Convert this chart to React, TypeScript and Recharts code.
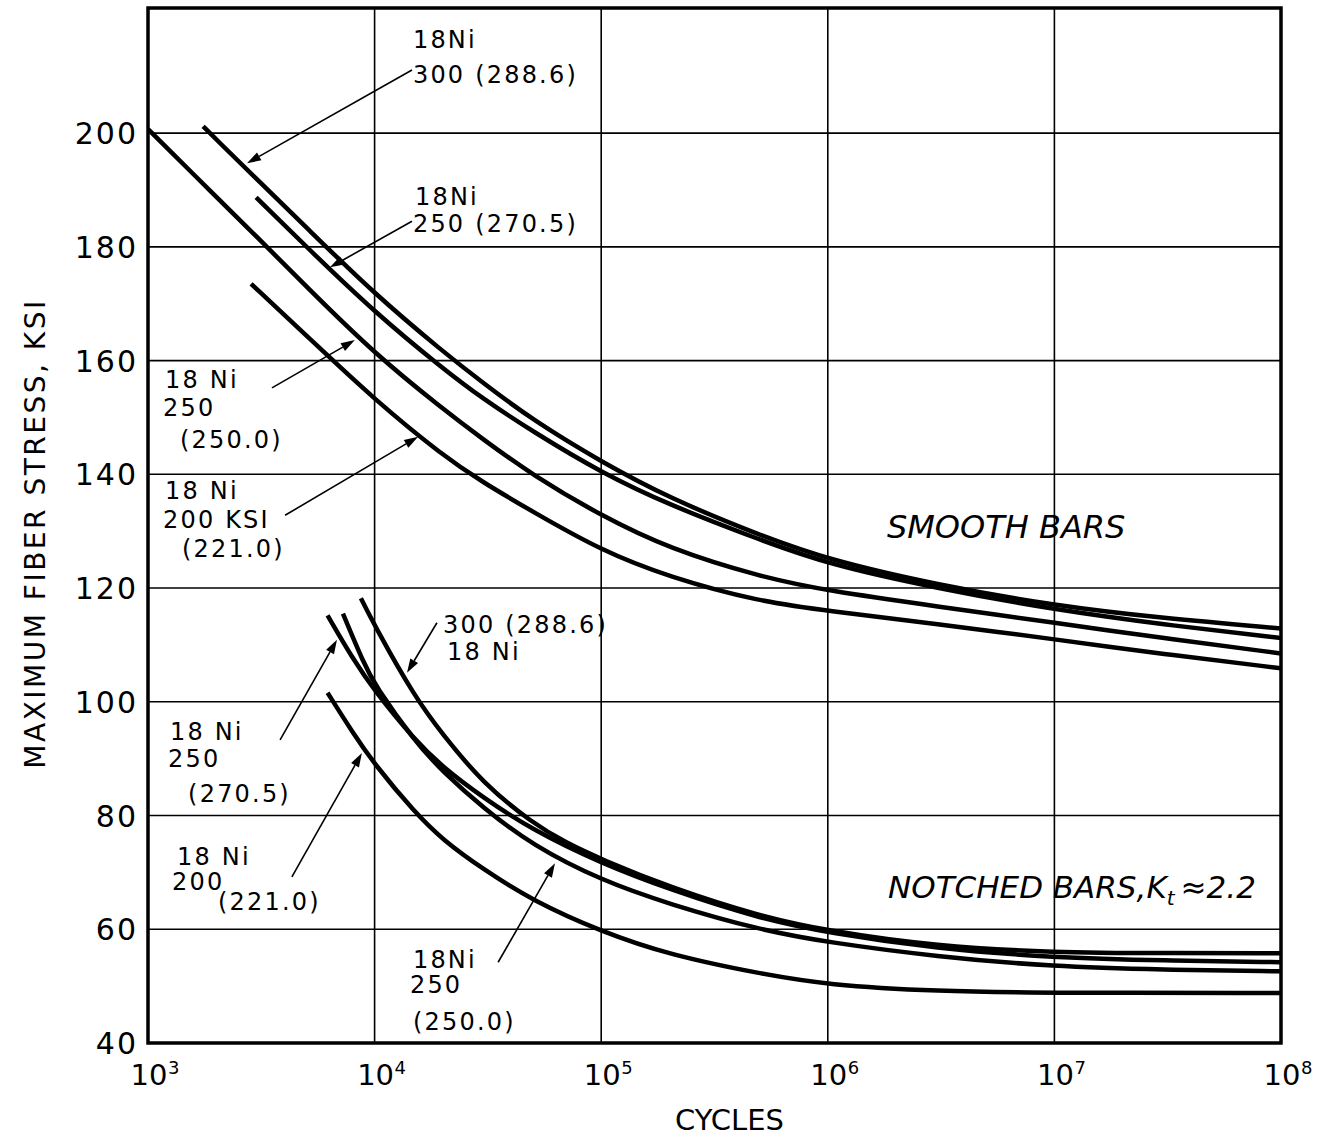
import React from "react";
import {
  LineChart,
  Line,
  XAxis,
  YAxis,
  CartesianGrid,
  ReferenceArea,
  ReferenceLine,
  ReferenceDot,
} from "recharts";

const FONT = '"DejaVu Sans", sans-serif';

// axis ticks
const cycleTicks = [1e3, 1e4, 1e5, 1e6, 1e7, 1e8];
const stressTicks = [40, 60, 80, 100, 120, 140, 160, 180, 200];

// smooth bars, [cycles, ksi]
const smooth300 = [
  [1.75e3, 201.2], [2e3, 198.9], [3e3, 192], [5e3, 183.4], [1e4, 171.7],
  [2e4, 161.6], [3e4, 156.1], [5e4, 149.5], [1e5, 142.2], [2e5, 135.8],
  [5e5, 129.3], [1e6, 125], [3e6, 120.6], [1e7, 116.9], [3e7, 114.7], [1e8, 112.9],
];
const smooth270 = [
  [3e3, 188.7], [5e3, 180], [1e4, 168.5], [2e4, 158.6], [3e4, 153.3],
  [5e4, 147.5], [1e5, 140.3], [2e5, 134.6], [5e5, 128.5], [1e6, 124.2],
  [3e6, 120], [1e7, 116.2], [3e7, 113.6], [1e8, 111.2],
];
const smooth250 = [
  [1e3, 200.7], [2e3, 188.8], [3e3, 181.9], [5e3, 173], [1e4, 161.2],
  [2e4, 151.5], [3e4, 146.2], [5e4, 139.8], [1e5, 132.7], [2e5, 126.9],
  [5e5, 122], [1e6, 119.5], [3e6, 116.8], [1e7, 113.9], [3e7, 111.2], [1e8, 108.5],
];
const smooth221 = [
  [2.85e3, 173.5], [5e3, 164.4], [1e4, 153.1], [2e4, 143.3], [3e4, 138.6],
  [5e4, 133.4], [1e5, 126.6], [2e5, 121.9], [5e5, 117.6], [1e6, 116],
  [3e6, 113.7], [1e7, 111], [3e7, 108.4], [1e8, 105.9],
];

// notched bars, Kt = 2.2
const notched300 = [
  [8.7e3, 118.2], [1e4, 113.4], [1.5e4, 100.9], [2e4, 94.2], [3e4, 85.7],
  [5e4, 78.6], [7e4, 75.2], [1e5, 72.3], [2e5, 67.4], [5e5, 62.3],
  [1e6, 59.7], [3e6, 57], [1e7, 55.9], [3e7, 55.8], [1e8, 55.8],
];
const notched270 = [
  [6.2e3, 115.2], [8e3, 107.6], [1e4, 101.9], [1.5e4, 93.3], [2e4, 88.5],
  [3e4, 83.2], [5e4, 77.4], [1e5, 71.6], [2e5, 67], [5e5, 61.9],
  [1e6, 59.4], [3e6, 56.6], [1e7, 55], [3e7, 54.5], [1e8, 54.2],
];
const notched250 = [
  [7.25e3, 115.5], [9e3, 106.6], [1e4, 103], [1.5e4, 93.1], [2e4, 87.7],
  [3e4, 81.4], [5e4, 74.7], [1e5, 68.6], [2e5, 64.4], [5e5, 59.9],
  [1e6, 57.7], [3e6, 55.2], [1e7, 53.4], [3e7, 52.9], [1e8, 52.6],
];
const notched221 = [
  [6.2e3, 101.6], [8e3, 94.6], [1e4, 89], [1.5e4, 80.6], [2e4, 75.7],
  [3e4, 70.6], [5e4, 65], [1e5, 59.6], [2e5, 55.5], [5e5, 52.2],
  [1e6, 50.2], [3e6, 49.1], [1e7, 48.8], [1e8, 48.8],
];

const series = [
  { id: "s300", pts: smooth300 },
  { id: "s270", pts: smooth270 },
  { id: "s250", pts: smooth250 },
  { id: "s221", pts: smooth221 },
  { id: "n300", pts: notched300 },
  { id: "n270", pts: notched270 },
  { id: "n250", pts: notched250 },
  { id: "n221", pts: notched221 },
];

// curve labels (cycles, ksi at text baseline)
const notes = [
  { text: "18Ni", n: 1.476e4, s: 215.0 },
  { text: "300 (288.6)", n: 1.476e4, s: 208.8 },
  { text: "18Ni", n: 1.507e4, s: 187.4 },
  { text: "250 (270.5)", n: 1.476e4, s: 182.6 },
  { text: "18 Ni", n: 1.189e3, s: 155.1 },
  { text: "250", n: 1.164e3, s: 150.2 },
  { text: "(250.0)", n: 1.384e3, s: 144.6 },
  { text: "18 Ni", n: 1.189e3, s: 135.6 },
  { text: "200 KSI", n: 1.164e3, s: 130.5 },
  { text: "(221.0)", n: 1.413e3, s: 125.5 },
  { text: "300 (288.6)", n: 2.004e4, s: 112.1 },
  { text: "18 Ni", n: 2.089e4, s: 107.4 },
  { text: "18 Ni", n: 1.25e3, s: 93.3 },
  { text: "250", n: 1.225e3, s: 88.5 },
  { text: "(270.5)", n: 1.503e3, s: 82.4 },
  { text: "18 Ni", n: 1.343e3, s: 71.3 },
  { text: "200", n: 1.276e3, s: 66.9 },
  { text: "(221.0)", n: 2.037e3, s: 63.4 },
  { text: "18Ni", n: 1.476e4, s: 53.2 },
  { text: "250", n: 1.432e4, s: 48.8 },
  { text: "(250.0)", n: 1.476e4, s: 42.3 },
];

// leader arrows: tail -> head
const leaders = [
  { from: [1.462e4, 211.1], to: [2.735e3, 194.7] },
  { from: [1.462e4, 184.5], to: [6.353e3, 176.4] },
  { from: [3.524e3, 155.2], to: [8.185e3, 163.6] },
  { from: [4.027e3, 132.8], to: [1.556e4, 146.6] },
  { from: [1.884e4, 113.9], to: [1.39e4, 105.1] },
  { from: [3.828e3, 93.3], to: [6.823e3, 110.9] },
  { from: [4.315e3, 69.2], to: [8.79e3, 91.0] },
  { from: [3.508e4, 54.2], to: [6.252e4, 71.6] },
];

const toPoints = (pairs: number[][]) => pairs.map(([n, s]) => ({ n, s }));

const CycleTick = (props: any) => {
  const { x, y, payload } = props;
  const exp = Math.round(Math.log10(payload.value));
  return (
    <g>
      <text x={x + 1} y={y + 42} textAnchor="middle" fontSize={29} fontFamily={FONT} fill="#000">
        10
      </text>
      <text x={x + 20} y={y + 31} fontSize={18} fontFamily={FONT} fill="#000">
        {exp}
      </text>
    </g>
  );
};

const StressTick = (props: any) => {
  const { x, y, payload } = props;
  return (
    <text x={x - 10} y={y + 11} textAnchor="end" fontSize={30} letterSpacing={2} fontFamily={FONT} fill="#000">
      {payload.value}
    </text>
  );
};

const Leader = (props: any) => {
  const { x1, y1, x2, y2 } = props;
  const a = Math.atan2(y2 - y1, x2 - x1);
  const len = 14;
  const w = 4.5;
  const bx = x2 - len * Math.cos(a);
  const by = y2 - len * Math.sin(a);
  const pts = `${x2},${y2} ${bx - w * Math.sin(a)},${by + w * Math.cos(a)} ${bx + w * Math.sin(a)},${by - w * Math.cos(a)}`;
  return (
    <g>
      <line x1={x1} y1={y1} x2={bx} y2={by} stroke="#000" strokeWidth={1.6} />
      <polygon points={pts} fill="#000" />
    </g>
  );
};

const yTitle = (p: any) => {
  const vb = p.viewBox;
  const cx = vb.x - 13;
  const cy = vb.y + vb.height / 2 + 8;
  return (
    <text
      x={cx}
      y={cy}
      transform={`rotate(-90 ${cx} ${cy})`}
      textAnchor="middle"
      dominantBaseline="central"
      fontSize={28}
      letterSpacing={2.5}
      fontFamily={FONT}
      fill="#000"
    >
      MAXIMUM FIBER STRESS, KSI
    </text>
  );
};

const xTitle = (p: any) => {
  const vb = p.viewBox;
  return (
    <text x={vb.x + vb.width / 2 + 15} y={vb.y + 87} textAnchor="middle" fontSize={29} fontFamily={FONT} fill="#000">
      CYCLES
    </text>
  );
};

export default function App() {
  return (
    <div style={{ position: "absolute", left: 0, top: 0, width: 1329, height: 1138, background: "#fff" }}>
      <LineChart width={1329} height={1138} margin={{ top: 8, right: 48, bottom: 0, left: 48 }}>
        <CartesianGrid stroke="#000" strokeWidth={1.6} />
        <XAxis
          dataKey="n"
          type="number"
          scale="log"
          domain={[1e3, 1e8]}
          ticks={cycleTicks}
          allowDataOverflow
          axisLine={false}
          tickLine={false}
          tickSize={0}
          tickMargin={0}
          height={95}
          tick={<CycleTick />}
          interval={0}
          label={{ content: xTitle }}
        />
        <YAxis
          type="number"
          domain={[40, 222]}
          ticks={stressTicks}
          allowDataOverflow
          axisLine={false}
          tickLine={false}
          tickSize={0}
          tickMargin={0}
          width={100}
          tick={<StressTick />}
          interval={0}
          label={{ content: yTitle }}
        />
        <ReferenceArea x1={1e3} x2={1e8} y1={40} y2={222} fill="none" stroke="#000" strokeWidth={3.5} ifOverflow="visible" />
        {series.map((sr) => (
          <Line
            key={sr.id}
            data={toPoints(sr.pts)}
            dataKey="s"
            type="basis"
            stroke="#000"
            strokeWidth={4.5}
            dot={false}
            activeDot={false}
            isAnimationActive={false}
          />
        ))}
        {leaders.map((l, i) => (
          <ReferenceLine
            key={`ld${i}`}
            segment={[
              { x: l.from[0], y: l.from[1] },
              { x: l.to[0], y: l.to[1] },
            ]}
            ifOverflow="visible"
            shape={(p: any) => <Leader {...p} />}
          />
        ))}
        {notes.map((t, i) => (
          <ReferenceDot
            key={`nt${i}`}
            x={t.n}
            y={t.s}
            r={1}
            ifOverflow="visible"
            shape={(p: any) => (
              <text x={p.cx} y={p.cy} fontSize={24} letterSpacing={2.2} fontFamily={FONT} fill="#000">
                {t.text}
              </text>
            )}
          />
        ))}
        <ReferenceDot
          x={1.824e6}
          y={128.8}
          r={1}
          ifOverflow="visible"
          shape={(p: any) => (
            <text x={p.cx} y={p.cy} fontSize={32} fontStyle="italic" fontFamily={FONT} fill="#000">
              SMOOTH BARS
            </text>
          )}
        />
        <ReferenceDot
          x={1.845e6}
          y={65.5}
          r={1}
          ifOverflow="visible"
          shape={(p: any) => (
            <text x={p.cx} y={p.cy} fontSize={31} fontStyle="italic" fontFamily={FONT} fill="#000">
              NOTCHED BARS,K
              <tspan dy={7} fontSize={20}>t</tspan>
              <tspan dy={-7} dx={6}>≈2.2</tspan>
            </text>
          )}
        />
      </LineChart>
    </div>
  );
}
